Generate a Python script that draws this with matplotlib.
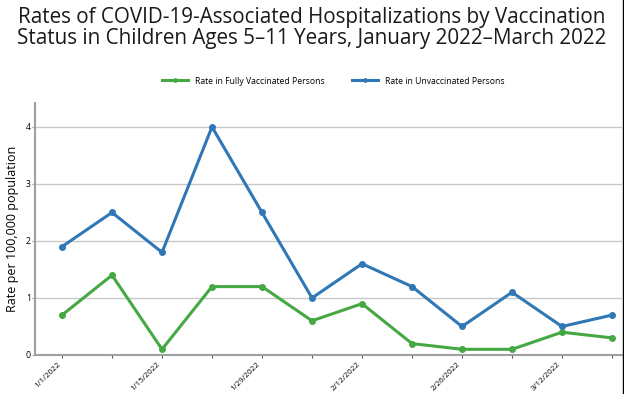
import matplotlib
matplotlib.use('Agg')
from matplotlib import pyplot as plt
from matplotlib.lines import Line2D
from matplotlib.transforms import ScaledTranslation

# data
dates = ['1/1/2022', '1/8/2022', '1/15/2022', '1/22/2022', '1/29/2022', '2/5/2022',
         '2/12/2022', '2/19/2022', '2/26/2022', '3/5/2022', '3/12/2022', '3/19/2022']
vaccinated = [0.7, 1.4, 0.1, 1.2, 1.2, 0.6, 0.9, 0.2, 0.1, 0.1, 0.4, 0.3]
unvaccinated = [1.9, 2.5, 1.8, 4.0, 2.5, 1.0, 1.6, 1.2, 0.5, 1.1, 0.5, 0.7]

green = '#46a843'
blue = '#2f77b5'

plt.rcParams['font.family'] = ['Open Sans', 'DejaVu Sans']

fig = plt.figure(figsize=(6.24, 3.94), dpi=100)
ax = fig.add_axes([35 / 624, 1 - 355 / 394, (622 - 35) / 624, (355 - 103) / 394])

x = list(range(len(dates)))
ax.plot(x, vaccinated, color=green, lw=2.2, marker='o', ms=4, label='Rate in Fully Vaccinated Persons')
ax.plot(x, unvaccinated, color=blue, lw=2.2, marker='o', ms=4, label='Rate in Unvaccinated Persons')

ax.set_xlim(-0.54, 11.2)
ax.set_ylim(0, 4.42)
ax.set_yticks([0, 1, 2, 3, 4])
ax.set_xticks(x)
ax.set_xticklabels([d if i % 2 == 0 else '' for i, d in enumerate(dates)],
                   rotation=45, ha='right', va='top', fontsize=5.8)
shift = ScaledTranslation(3 / 100, 0, fig.dpi_scale_trans)
for lab in ax.get_xticklabels():
    lab.set_transform(lab.get_transform() + shift)
ax.tick_params(axis='x', length=2, color='#555555', pad=2)
ax.tick_params(axis='y', length=2, labelsize=6.3, color='#999999', pad=1)
ax.grid(axis='y', color='#c8c8c8', lw=1)
ax.set_axisbelow(True)
for s in ['top', 'right']:
    ax.spines[s].set_visible(False)
for s in ['left', 'bottom']:
    ax.spines[s].set_color('#a0a0a0')
    ax.spines[s].set_linewidth(1.5)

ax.set_ylabel('Rate per 100,000 population', fontsize=9, labelpad=5)

fig.legend(loc='center', bbox_to_anchor=(333 / 624, 1 - 81 / 394), ncol=2, frameon=False,
           fontsize=6.2, handlelength=3, columnspacing=3.2, markerscale=0.6)

fig.text(0.5, 1 - 28 / 394, 'Rates of COVID-19-Associated Hospitalizations by Vaccination\n'
         'Status in Children Ages 5\u201311 Years, January 2022\u2013March 2022',
         ha='center', va='center', fontsize=14.9, linespacing=1.05, color='#1a1a1a')

fig.add_artist(Line2D([0.9985, 0.9985], [0, 1], color='black', lw=1))

plt.savefig('out.png', dpi=100)
plt.close()
